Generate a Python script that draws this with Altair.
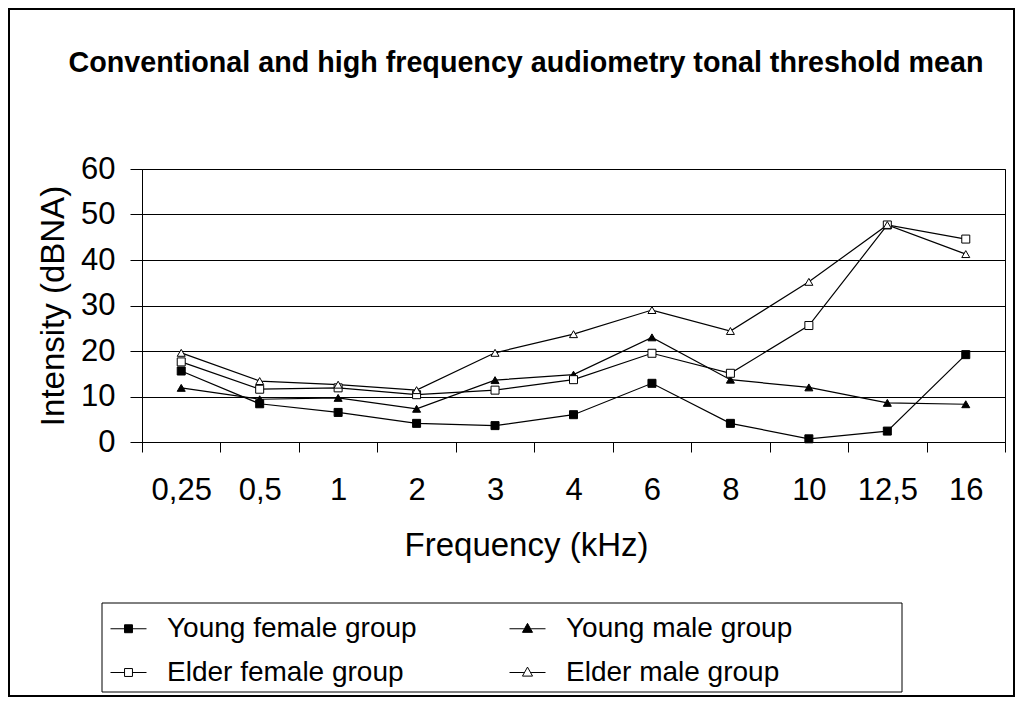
import altair as alt
import pandas as pd

chart_title = "Conventional and high frequency audiometry tonal threshold mean"
x_title = "Frequency (kHz)"
y_title = "Intensity (dBNA)"

freq_labels = ['0,25', '0,5', '1', '2', '3', '4', '6', '8', '10', '12,5', '16']
series_names = ['Young female group', 'Young male group', 'Elder female group', 'Elder male group']

young_female = [15.6, 8.4, 6.5, 4.1, 3.6, 6.0, 12.9, 4.1, 0.7, 2.4, 19.2]
young_male = [11.9, 9.4, 9.7, 7.3, 13.6, 14.8, 23.0, 13.7, 12.0, 8.6, 8.3]
elder_female = [17.6, 11.6, 11.9, 10.4, 11.4, 13.7, 19.5, 15.1, 25.6, 47.7, 44.6]
elder_male = [19.6, 13.4, 12.6, 11.4, 19.6, 23.7, 29.0, 24.4, 35.2, 47.7, 41.3]

y_ticks = [0, 10, 20, 30, 40, 50, 60]
series_fill = ['black', 'black', 'white', 'white']
series_shape = ['square', 'triangle-up', 'square', 'triangle-up']

rows = []
for name, vals in zip(series_names, [young_female, young_male, elder_female, elder_male]):
    for i, (lab, v) in enumerate(zip(freq_labels, vals)):
        rows.append({'series': name, 'idx': i, 'freq': lab, 'value': v})
df = pd.DataFrame(rows)

W, H = 863, 273
PAD = {'left': 134, 'top': 161, 'right': 10, 'bottom': 255}
FONT = "Liberation Sans"

label_arr = "[" + ",".join("'%s'" % l for l in freq_labels) + ",'']"
x_enc = alt.X(
    'idx:Q',
    scale=alt.Scale(domain=[-0.5, 10.5], nice=False, zero=False),
    axis=alt.Axis(
        values=[i - 0.5 for i in range(12)],
        labelExpr=label_arr + "[floor(datum.value + 0.75)]",
        labelOffset=W / 11 / 2,
        tickSize=10,
        labelPadding=38,
        labelBaseline='middle',
        labelFlush=False,
        labelOverlap=False,
        labelBound=False,
        labelFontSize=31,
        grid=False,
        title=x_title,
        titleX=384,
        titleY=113,
        titleAlign='center',
        titleBaseline='alphabetic',
        titleFontSize=33,
    ),
)
y_enc = alt.Y(
    'value:Q',
    scale=alt.Scale(domain=[0, 60], nice=False),
    axis=alt.Axis(
        values=y_ticks,
        tickSize=12,
        labelPadding=15,
        labelFontSize=31,
        grid=True,
        gridColor='black',
        gridOpacity=1,
        title=y_title,
        titleFontSize=33,
        titlePadding=10,
    ),
)

frame = alt.Chart(alt.Data(values=[{}])).mark_rect(
    fill='transparent', stroke='black', strokeWidth=2
).encode(x=alt.value(-133), x2=alt.value(W + 9), y=alt.value(-160), y2=alt.value(H + 254))

legend_box = alt.Chart(alt.Data(values=[{}])).mark_rect(
    fill='transparent', stroke='black', strokeWidth=1
).encode(x=alt.value(-40), x2=alt.value(760), y=alt.value(434), y2=alt.value(523))

title_text = alt.Chart(alt.Data(values=[{'t': chart_title}])).mark_text(
    font=FONT, fontSize=28.7, fontWeight='bold', align='center', baseline='middle', color='black'
).encode(x=alt.value(384), y=alt.value(-106), text='t:N')

lines = alt.Chart(df).mark_line(color='black', strokeWidth=1.2).encode(
    x=x_enc, y=y_enc, detail='series:N', order='idx:Q'
)

points = alt.Chart(df).mark_point(filled=True, stroke='black', strokeWidth=1, opacity=1, size=64).encode(
    x=x_enc, y=y_enc,
    shape=alt.Shape('series:N', scale=alt.Scale(domain=series_names, range=series_shape), legend=None),
    fill=alt.Fill('series:N', scale=alt.Scale(domain=series_names, range=series_fill), legend=None),
)

sq_path = "M-1,0H-0.22M0.22,0H1M-0.22,-0.22H0.22V0.22H-0.22Z"
tri_path = "M-1,0H-0.2M0.2,0H1M0,-0.3L0.28,0.2H-0.28Z"
legend_shapes = [sq_path, tri_path, sq_path, tri_path]

dummy = alt.Chart(df).transform_filter('false').mark_point(
    filled=True, strokeWidth=1, opacity=1
).encode(
    x=x_enc, y=y_enc,
    shape=alt.Shape('series:N', scale=alt.Scale(domain=series_names, range=legend_shapes),
                    legend=alt.Legend(title=None)),
    fill=alt.Fill('series:N', scale=alt.Scale(domain=series_names, range=series_fill),
                  legend=alt.Legend(title=None)),
    stroke=alt.Stroke('series:N', scale=alt.Scale(domain=series_names, range=['black'] * 4),
                      legend=alt.Legend(title=None)),
)

chart = alt.layer(frame, legend_box, lines, points, dummy, title_text).resolve_scale(
    shape='independent', fill='independent', stroke='independent'
).properties(
    width=W, height=H, padding=PAD, autosize=alt.AutoSizeParams(type='none')
).configure_view(
    stroke='black', strokeWidth=1
).configure_axis(
    domainColor='black', tickColor='black', labelColor='black', titleColor='black',
    labelFont=FONT, titleFont=FONT, titleFontWeight='normal', domainWidth=1, tickWidth=1,
).configure_legend(
    orient='none', legendX=-32, legendY=441, columns=2, direction='horizontal', padding=0,
    labelFont=FONT, labelFontSize=28, labelColor='black', labelOffset=20,
    symbolSize=1296, symbolStrokeColor='black', symbolStrokeWidth=1,
    columnPadding=90, rowPadding=11, labelLimit=400,
)

chart.save("out.html", embed_options={"renderer": "svg", "actions": False})
